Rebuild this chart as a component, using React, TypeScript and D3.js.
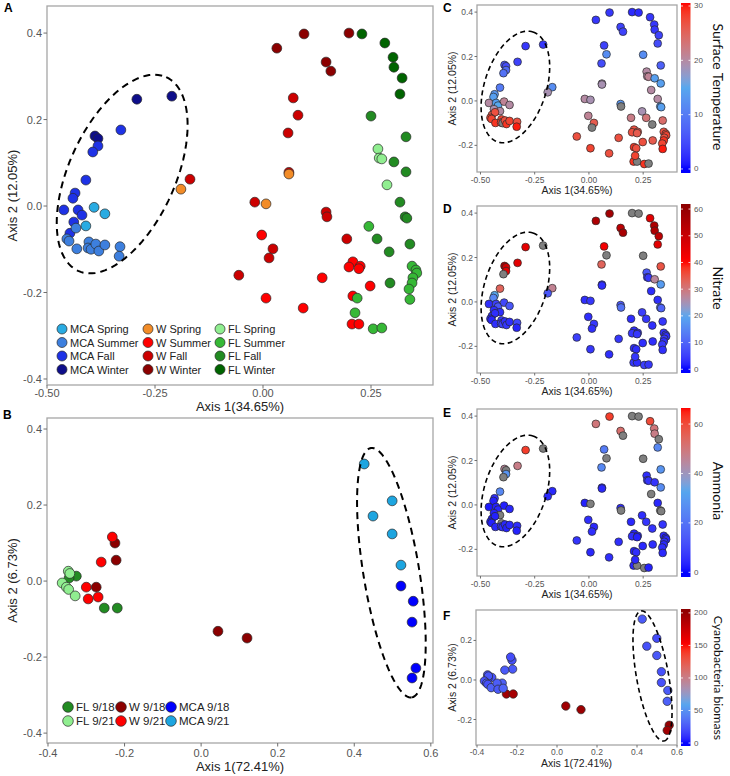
import React from "react";
import * as d3 from "d3";

// ---------- Data: PCoA of seasonal samples (panels A, C, D, E) ----------
const seasonLevels = [
  "MCA Spring", "MCA Summer", "MCA Fall", "MCA Winter",
  "W Spring", "W Summer", "W Fall", "W Winter",
  "FL Spring", "FL Summer", "FL Fall", "FL Winter",
];
const seasonFills = [
  "#29ABE2", "#3D7FDE", "#1E32E6", "#0E0E8A",
  "#F28C28", "#FF0000", "#CC0000", "#8B0000",
  "#90EE90", "#36B836", "#228B22", "#006400",
];

const axis1 = [
  -0.292, -0.211, -0.389, -0.382, -0.329, -0.382, -0.394, -0.41, -0.435, -0.44,
  -0.461, -0.428, -0.419, -0.438, -0.447, -0.391, -0.366, -0.41, -0.433, -0.454,
  -0.449, -0.431, -0.403, -0.405, -0.398, -0.387, -0.38, -0.366, -0.331, -0.333,
  -0.169, -0.19, 0.032, 0.095, 0.199, 0.146, 0.157, 0.07, 0.081, 0.058,
  0.06, 0.06, -0.019, 0.007, 0.146, 0.148, -0.003, 0.023, 0.014, 0.194,
  0.208, 0.199, 0.225, 0.222, -0.056, 0.137, 0.248, 0.007, 0.093, 0.208,
  0.206, 0.222, 0.229, 0.282, 0.301, 0.303, 0.322, 0.317, 0.331, 0.25,
  0.266, 0.269, 0.275, 0.303, 0.331, 0.287, 0.317, 0.329, 0.333, 0.245,
  0.264, 0.292, 0.34, 0.294, 0.345, 0.354, 0.356, 0.347, 0.345, 0.338,
  0.34, 0.218, 0.213, 0.255, 0.275,
];
const axis2 = [
  0.247, 0.254, 0.162, 0.156, 0.176, 0.139, 0.125, 0.06, 0.03, 0.018,
  -0.009, -0.009, -0.021, -0.037, -0.063, -0.003, -0.018, -0.046, -0.051, -0.076,
  -0.081, -0.099, -0.083, -0.097, -0.1, -0.088, -0.104, -0.09, -0.094, -0.116,
  0.062, 0.039, 0.365, 0.398, 0.4, 0.333, 0.312, 0.25, 0.21, 0.169,
  0.078, 0.074, 0.009, 0.005, -0.014, -0.025, -0.067, -0.099, -0.12, -0.076,
  -0.129, -0.141, -0.139, -0.145, -0.16, -0.166, -0.185, -0.213, -0.236, -0.208,
  -0.273, -0.273, 0.398, 0.377, 0.344, 0.321, 0.296, 0.259, 0.16, 0.208,
  0.132, 0.111, 0.109, 0.102, 0.079, 0.049, 0.009, -0.025, -0.028, -0.047,
  -0.076, -0.106, -0.088, -0.178, -0.139, -0.148, -0.155, -0.166, -0.178, -0.192,
  -0.216, -0.213, -0.247, -0.284, -0.282,
];
const season = [
  "MCA Winter", "MCA Winter", "MCA Winter", "MCA Winter", "MCA Fall", "MCA Fall", "MCA Fall", "MCA Fall", "MCA Fall", "MCA Fall",
  "MCA Fall", "MCA Fall", "MCA Fall", "MCA Fall", "MCA Fall", "MCA Spring", "MCA Spring", "MCA Spring", "MCA Summer", "MCA Summer",
  "MCA Summer", "MCA Summer", "MCA Summer", "MCA Summer", "MCA Summer", "MCA Summer", "MCA Summer", "MCA Summer", "MCA Summer", "MCA Summer",
  "W Fall", "W Spring", "W Winter", "W Winter", "W Winter", "W Winter", "W Winter", "W Fall", "W Fall", "W Fall",
  "W Fall", "W Spring", "W Fall", "W Spring", "W Fall", "W Fall", "W Summer", "W Fall", "W Fall", "W Fall",
  "W Summer", "W Summer", "W Summer", "W Summer", "W Fall", "W Summer", "W Summer", "W Summer", "W Summer", "W Summer",
  "W Summer", "W Summer", "FL Winter", "FL Winter", "FL Winter", "FL Winter", "FL Winter", "FL Winter", "FL Fall", "FL Fall",
  "FL Spring", "FL Spring", "FL Spring", "FL Fall", "FL Fall", "FL Spring", "FL Fall", "FL Fall", "FL Fall", "FL Summer",
  "FL Fall", "FL Fall", "FL Fall", "FL Fall", "FL Summer", "FL Summer", "FL Summer", "FL Summer", "FL Summer", "FL Summer",
  "FL Summer", "FL Summer", "FL Summer", "FL Summer", "FL Summer",
];
const surfaceTemperature = [
  3, 3, 6, 5, 4, 8, 9, 10, 13, 14,
  20, 14, 15, 19, 26, 21, 20, 20, 27, 28,
  28, 29, 28, 28, null, 27, 29, 28, 27, 30,
  12, 19, 3, 3, 2, 4, 4, 4, 12, 5,
  19, 19, 20, 19, 13, null, 21, 26, null, 22,
  27, 27, 26, 26, 27, 27, 27, 28, 27, 29,
  29, null, 2, 3, 3, 3, 4, 5, 7, 12,
  20, 20, 21, 14, 14, 20, 20, 14, 14, 19,
  23, null, 24, 26, 27, 28, 28, 27, 29, 28,
  30, 27, 28, 29, null,
];
const nitrate = [
  45, null, 55, 48, 45, 45, null, 33, 20, 15,
  3, 5, 8, 3, 3, 6, 8, 3, 3, 2,
  2, 3, 4, 5, 5, 3, 4, 3, 6, 2,
  28, 8, 55, 57, null, 52, 56, 42, null, 33,
  3, 3, 3, 4, 8, 12, 3, 4, 3, 3,
  3, 4, 3, 4, 5, 4, 3, 4, 3, 3,
  4, 3, null, 45, 55, 55, 52, 45, 35, null,
  8, 3, 4, 27, 18, 3, 3, 12, 10, 5,
  4, 3, 4, 3, 3, 4, 3, 4, 3, 4,
  3, 3, 4, 5, 4,
];
const ammonia = [
  62, null, 45, null, 48, 28, null, 25, 5, 3,
  2, 3, 4, 3, 2, 3, 4, null, 3, 2,
  3, 4, null, 6, 5, 4, 3, 4, 5, 3,
  4, 4, 50, 62, null, 52, null, 22, null, 25,
  4, 4, 3, null, 4, null, 5, 4, 5, 4,
  3, 5, 4, 3, 6, 5, 4, 4, 5, 3,
  4, null, null, 60, 50, 48, null, 25, 28, null,
  5, 5, 6, 6, 26, null, 4, null, null, 5,
  6, 6, 6, 5, 4, 3, 4, 5, 4, 5,
  4, 5, 4, null, 3,
];

// ---------- Data: PCoA of sampling dates (panels B, F) ----------
const dateLevels = ["FL 9/18", "FL 9/21", "W 9/18", "W 9/21", "MCA 9/18", "MCA 9/21"];
const dateFills = ["#228B22", "#90EE90", "#8B0000", "#FF0000", "#0000FF", "#1DA5E0"];
const dateAxis1 = [
  -0.326, -0.345, -0.253, -0.219,
  -0.347, -0.343, -0.363, -0.352, -0.346, -0.329,
  -0.225, -0.222, -0.274, 0.044, 0.12,
  -0.232, -0.261, -0.3, -0.295, -0.269,
  0.522, 0.554, 0.551, 0.561, 0.551,
  0.426, 0.449, 0.499, 0.499, 0.522,
];
const dateAxis2 = [
  0.013, 0.008, -0.071, -0.071,
  0.026, 0.02, -0.005, -0.016, -0.022, -0.039,
  0.1, 0.055, -0.016, -0.132, -0.15,
  0.116, 0.05, -0.016, -0.047, -0.042,
  -0.013, -0.053, -0.108, -0.229, -0.255,
  0.308, 0.171, 0.211, 0.124, 0.042,
];
const dateGroup = [
  "FL 9/18", "FL 9/18", "FL 9/18", "FL 9/18",
  "FL 9/21", "FL 9/21", "FL 9/21", "FL 9/21", "FL 9/21", "FL 9/21",
  "W 9/18", "W 9/18", "W 9/18", "W 9/18", "W 9/18",
  "W 9/21", "W 9/21", "W 9/21", "W 9/21", "W 9/21",
  "MCA 9/18", "MCA 9/18", "MCA 9/18", "MCA 9/18", "MCA 9/18",
  "MCA 9/21", "MCA 9/21", "MCA 9/21", "MCA 9/21", "MCA 9/21",
];
const cyanoBiomass = [
  22, 20, 195, 192,
  20, 24, 22, 26, 21, 28,
  22, 25, 28, 195, 198,
  20, 26, 27, 25, 30,
  22, 26, 28, 200, 195,
  26, 22, 20, 25, 22,
];

// ellipses: [centre x, centre y, half-major dx, dy, half-minor dx, dy] in data units
const ellipseA = [-0.326, 0.074, 0.102, 0.224, 0.112, -0.051];
const ellipseCDE = [-0.339, 0.063, 0.0806, 0.2477, 0.136, -0.042];
const ellipseB = [0.497, 0.022, 0.0535, -0.328, 0.072, 0.012];
const ellipseF = [0.4775, 0.0203, 0.0575, -0.329, 0.079, 0.014];

const ticksA = [-0.5, -0.25, 0, 0.25];
const ticksY4 = [-0.4, -0.2, 0, 0.2, 0.4];
const ticksB = [-0.4, -0.2, 0, 0.2, 0.4, 0.6];
const ticksYC = [-0.2, 0, 0.2, 0.4];
const ticksYF = [-0.2, 0, 0.2];

const tempTicks = [0, 10, 20, 30];
const nitrateTicks = [0, 10, 20, 30, 40, 50, 60];
const ammoniaTicks = [0, 20, 40, 60];
const biomassTicks = [0, 50, 100, 150, 200];

const FONT = "'Liberation Sans', Arial, Helvetica, sans-serif";
const NA_GREY = "#7F7F7F";

const makeScale = (stops: number[], colors: string[]) =>
  d3.scaleLinear<string>().domain(stops).range(colors).interpolate(d3.interpolateLab).clamp(true);

const tempScale = makeScale([0, 15, 30.5], ["#0000FF", "#56A8EE", "#FF0000"]);
const nitrateScale = makeScale([0, 20, 40, 62], ["#0000FF", "#56A8EE", "#FF0000", "#8B0000"]);
const ammoniaScale = makeScale([0, 33, 66.5], ["#0000FF", "#56A8EE", "#FF0000"]);
const biomassScale = makeScale([0, 60, 150, 206], ["#0000FF", "#56A8EE", "#FF0000", "#8B0000"]);

const f2 = (d: number) => d.toFixed(2);
const f1 = (d: number) => d.toFixed(1);

function ellipsePath(e: number[], xs: any, ys: any) {
  const pts = d3.range(121).map((i) => {
    const t = (2 * Math.PI * i) / 120;
    return [
      xs(e[0] + e[2] * Math.cos(t) + e[4] * Math.sin(t)),
      ys(e[1] + e[3] * Math.cos(t) + e[5] * Math.sin(t)),
    ] as [number, number];
  });
  return d3.line()(pts) || "";
}

type PanelProps = {
  l: number; t: number; r: number; b: number;
  xDom: [number, number]; yDom: [number, number];
  xTicks: number[]; yTicks: number[];
  xFmt: (d: number) => string; yFmt: (d: number) => string;
  tickSize: number; titleSize: number;
  xLabelY: number; xTitleY: number; yTitleX: number;
  xTitle: string; yTitle: string;
  px: number[]; py: number[]; fills: string[]; radius: number;
  ellipse: number[]; dash: string; ellW: number;
  letter: string; letterX: number; letterY: number;
};

function Panel(p: PanelProps) {
  const xs = d3.scaleLinear().domain(p.xDom).range([p.l, p.r]);
  const ys = d3.scaleLinear().domain(p.yDom).range([p.b, p.t]);
  const tl = p.tickSize > 10 ? 3.5 : 2.5;
  return (
    <g>
      <rect x={p.l} y={p.t} width={p.r - p.l} height={p.b - p.t} fill="white" stroke="#A6A6A6" strokeWidth={1.3} />
      {p.xTicks.map((v) => (
        <g key={"x" + v}>
          <line x1={xs(v)} x2={xs(v)} y1={p.b} y2={p.b + tl} stroke="#6E6E6E" strokeWidth={1} />
          <text x={xs(v)} y={p.xLabelY} fontSize={p.tickSize} fill="#555" textAnchor="middle" dominantBaseline="central" fontFamily={FONT}>{p.xFmt(v)}</text>
        </g>
      ))}
      {p.yTicks.map((v) => (
        <g key={"y" + v}>
          <line x1={p.l - tl} x2={p.l} y1={ys(v)} y2={ys(v)} stroke="#6E6E6E" strokeWidth={1} />
          <text x={p.l - tl - 1.5} y={ys(v)} fontSize={p.tickSize} fill="#555" textAnchor="end" dominantBaseline="central" fontFamily={FONT}>{p.yFmt(v)}</text>
        </g>
      ))}
      <text x={(p.l + p.r) / 2} y={p.xTitleY} fontSize={p.titleSize} fill="#222" textAnchor="middle" dominantBaseline="central" fontFamily={FONT}>{p.xTitle}</text>
      <text transform={`translate(${p.yTitleX},${(p.t + p.b) / 2}) rotate(-90)`} fontSize={p.titleSize} fill="#222" textAnchor="middle" dominantBaseline="central" fontFamily={FONT}>{p.yTitle}</text>
      {p.px.map((v, i) => (
        <circle key={i} cx={xs(v)} cy={ys(p.py[i])} r={p.radius} fill={p.fills[i]} stroke="#2A2A2A" strokeWidth={0.7} />
      ))}
      <path d={ellipsePath(p.ellipse, xs, ys)} fill="none" stroke="#000" strokeWidth={p.ellW} strokeDasharray={p.dash} />
      <text x={p.letterX} y={p.letterY} fontSize={12} fontWeight="bold" fontFamily={FONT} fill="#000">{p.letter}</text>
    </g>
  );
}

type BarProps = {
  id: string; x: number; top: number; bottom: number; dom: [number, number];
  scale: any; ticks: number[]; title: string; titleY: number; titleSize: number;
};

function ColorBar(p: BarProps) {
  const ys = d3.scaleLinear().domain(p.dom).range([p.bottom, p.top]);
  const w = 9.5;
  const stops = d3.range(41).map((i) => p.dom[0] + ((p.dom[1] - p.dom[0]) * i) / 40);
  return (
    <g>
      <defs>
        <linearGradient id={p.id} x1="0" y1="1" x2="0" y2="0">
          {stops.map((v, i) => (
            <stop key={i} offset={i / 40} stopColor={p.scale(Math.max(0, v))} />
          ))}
        </linearGradient>
      </defs>
      <rect x={p.x} y={p.top} width={w} height={p.bottom - p.top} fill={`url(#${p.id})`} />
      {p.ticks.map((v) => (
        <g key={v}>
          <line x1={p.x} x2={p.x + 2} y1={ys(v)} y2={ys(v)} stroke="white" strokeWidth={0.8} />
          <line x1={p.x + w - 2} x2={p.x + w} y1={ys(v)} y2={ys(v)} stroke="white" strokeWidth={0.8} />
          <text x={p.x + w + 3.5} y={ys(v)} fontSize={8} fill="#555" dominantBaseline="central" fontFamily={FONT}>{v}</text>
        </g>
      ))}
      <text transform={`translate(718,${p.titleY}) rotate(90)`} fontSize={p.titleSize} fill="#111" textAnchor="middle" dominantBaseline="central"
        fontFamily="Lato, 'Open Sans', sans-serif">{p.title}</text>
    </g>
  );
}

function Legend({ levels, fills, cols, rowsPerCol, colX, rowY, textDx, r, fs, byRow }: any) {
  return (
    <g>
      {levels.map((lab: string, i: number) => {
        const c = byRow ? i % cols : Math.floor(i / rowsPerCol);
        const rr = byRow ? Math.floor(i / cols) : i % rowsPerCol;
        return (
          <g key={lab}>
            <circle cx={colX[c]} cy={rowY[rr]} r={r} fill={fills[i]} stroke="#2A2A2A" strokeWidth={0.7} />
            <text x={colX[c] + textDx} y={rowY[rr]} fontSize={fs} fill="#222" dominantBaseline="central" fontFamily={FONT}>{lab}</text>
          </g>
        );
      })}
    </g>
  );
}

export default function App() {
  const seasonFill = season.map((s) => seasonFills[seasonLevels.indexOf(s)]);
  const dateFill = dateGroup.map((s) => dateFills[dateLevels.indexOf(s)]);
  const col = (vals: (number | null)[], sc: any) => vals.map((v) => (v === null ? NA_GREY : sc(v)));

  const cdeBase = {
    l: 477, r: 677, xDom: [-0.516, 0.406] as [number, number], yDom: [-0.32, 0.432] as [number, number],
    xTicks: ticksA, yTicks: ticksYC, xFmt: f2, yFmt: f1, tickSize: 8.5, titleSize: 10.5,
    yTitleX: 452, xTitle: "Axis 1(34.65%)", yTitle: "Axis 2 (12.05%)",
    px: axis1, py: axis2, radius: 3.9, ellipse: ellipseCDE, dash: "5,3.5", ellW: 1.6, letterX: 443,
  };

  // legend order for panel B is by row: FL 9/18, W 9/18, MCA 9/18 / FL 9/21, W 9/21, MCA 9/21
  const bLegendLevels = ["FL 9/18", "W 9/18", "MCA 9/18", "FL 9/21", "W 9/21", "MCA 9/21"];
  const bLegendFills = bLegendLevels.map((s) => dateFills[dateLevels.indexOf(s)]);

  return (
    <svg width={730} height={776} style={{ position: "absolute", left: 0, top: 0, background: "white" }}>
      <rect width={730} height={776} fill="white" />
      <Panel
        l={47} t={6} r={433} b={385} xDom={[-0.5, 0.3935]} yDom={[-0.4139, 0.4626]}
        xTicks={ticksA} yTicks={ticksY4} xFmt={f2} yFmt={f1} tickSize={11} titleSize={13}
        xLabelY={393} xTitleY={406} yTitleX={12} xTitle="Axis 1(34.65%)" yTitle="Axis 2 (12.05%)"
        px={axis1} py={axis2} fills={seasonFill} radius={4.9}
        ellipse={ellipseA} dash="7,5" ellW={2} letter="A" letterX={4} letterY={12}
      />
      <Legend levels={seasonLevels} fills={seasonFills} cols={3} rowsPerCol={4}
        colX={[62, 148, 220]} rowY={[329, 342.5, 356, 369.5]} textDx={8} r={5} fs={11} byRow={false} />

      <Panel
        l={47} t={418} r={433} b={743} xDom={[-0.4026, 0.6057]} yDom={[-0.426, 0.429]}
        xTicks={ticksB} yTicks={ticksY4} xFmt={f1} yFmt={f1} tickSize={11} titleSize={13}
        xLabelY={753} xTitleY={766} yTitleX={12} xTitle="Axis 1(72.41%)" yTitle="Axis 2 (6.73%)"
        px={dateAxis1} py={dateAxis2} fills={dateFill} radius={4.9}
        ellipse={ellipseB} dash="7,5" ellW={2} letter="B" letterX={3} letterY={419}
      />
      <Legend levels={bLegendLevels} fills={bLegendFills} cols={3} rowsPerCol={2}
        colX={[68, 121, 171]} rowY={[707, 721]} textDx={8} r={5.3} fs={11.5} byRow={true} />

      <Panel {...cdeBase} t={5} b={172} xLabelY={179.5} xTitleY={189.5}
        fills={col(surfaceTemperature, tempScale)} letter="C" letterY={12} />
      <Panel {...cdeBase} t={206} b={373} xLabelY={380.5} xTitleY={390.5}
        fills={col(nitrate, nitrateScale)} letter="D" letterY={213} />
      <Panel {...cdeBase} t={409} b={576} xLabelY={583.5} xTitleY={593.5}
        fills={col(ammonia, ammoniaScale)} letter="E" letterY={417} />
      <Panel
        l={476} t={610} r={677} b={745} xDom={[-0.405, 0.6]} yDom={[-0.329, 0.354]}
        xTicks={ticksB} yTicks={ticksYF} xFmt={f1} yFmt={f1} tickSize={8.5} titleSize={10.5}
        xLabelY={752} xTitleY={762.5} yTitleX={452} xTitle="Axis 1(72.41%)" yTitle="Axis 2 (6.73%)"
        px={dateAxis1} py={dateAxis2} fills={col(cyanoBiomass, biomassScale)} radius={4.2}
        ellipse={ellipseF} dash="5,3.5" ellW={1.6} letter="F" letterX={443} letterY={620}
      />

      <ColorBar id="gT" x={681} top={3} bottom={173} dom={[-0.74, 30.55]} scale={tempScale} ticks={tempTicks} title="Surface Temperature" titleY={87} titleSize={14} />
      <ColorBar id="gN" x={681} top={204} bottom={373} dom={[-1.4, 61.9]} scale={nitrateScale} ticks={nitrateTicks} title="Nitrate" titleY={288} titleSize={14} />
      <ColorBar id="gA" x={681} top={408} bottom={577} dom={[-1.9, 66.5]} scale={ammoniaScale} ticks={ammoniaTicks} title="Ammonia" titleY={491} titleSize={14} />
      <ColorBar id="gB" x={681} top={609} bottom={746} dom={[-4.6, 206]} scale={biomassScale} ticks={biomassTicks} title="Cyanobacteria biomass" titleY={678} titleSize={12.3} />
    </svg>
  );
}
